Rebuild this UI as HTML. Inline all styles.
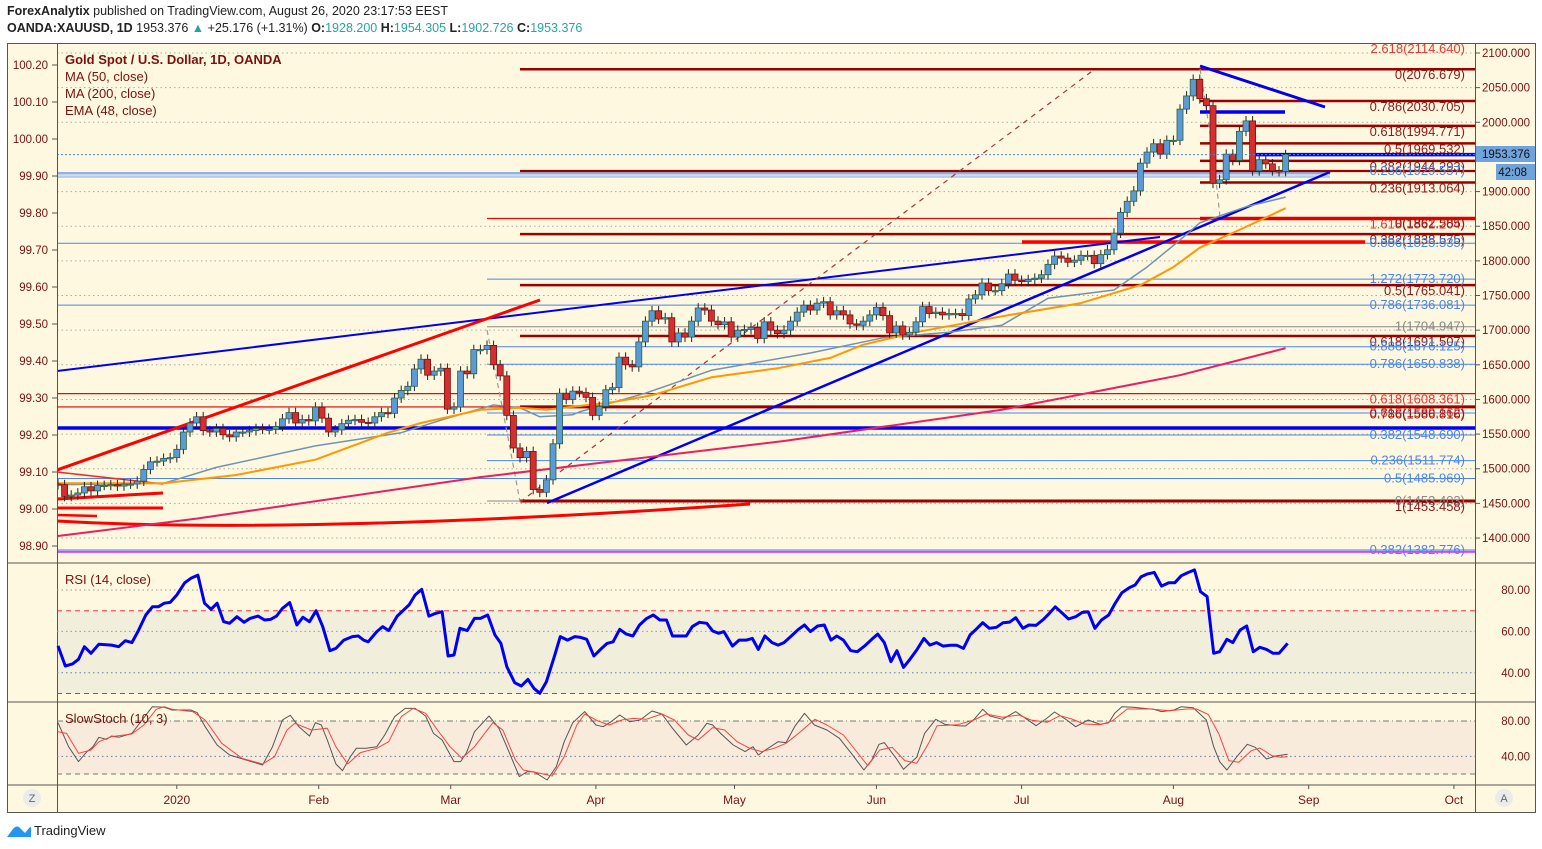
<!DOCTYPE html>
<html><head><meta charset="utf-8"><style>
body{margin:0;background:#fff;font-family:"Liberation Sans",sans-serif;}
#wrap{position:relative;width:1542px;height:849px;overflow:hidden;}
.h1{position:absolute;left:7px;top:4px;font-size:12.5px;color:#222;}
.h2{position:absolute;left:7px;top:21px;font-size:12.5px;color:#222;}
.t{color:#26a69a}
svg text{font-family:"Liberation Sans",sans-serif;}
</style></head><body>
<div id="wrap">
<div class="h1"><b>ForexAnalytix</b> published on TradingView.com, August 26, 2020 23:17:53 EEST</div>
<div class="h2"><b>OANDA:XAUUSD, 1D</b> 1953.376 <span class="t">▲</span> +25.176 (+1.31%) <b>O:</b><span class="t">1928.200</span> <b>H:</b><span class="t">1954.305</span> <b>L:</b><span class="t">1902.726</span> <b>C:</b><span class="t">1953.376</span></div>
<svg id="svg" width="1542" height="849" style="position:absolute;left:0;top:0"></svg>
</div>
<script>
// ---- DATA ----
const closes=[1477,1460,1462,1465,1474,1468,1476,1476,1477,1475,1478,1478,1482,1499,1510,1511,1515,1516,1528,1553,1566,1575,1555,1553,1558,1549,1546,1553,1553,1555,1558,1557,1557,1561,1572,1581,1566,1571,1569,1589,1573,1553,1556,1565,1570,1571,1567,1566,1575,1581,1580,1602,1613,1619,1644,1658,1635,1641,1645,1586,1589,1641,1637,1672,1672,1678,1650,
1634,1577,1530,1516,1525,1470,1466,1484,1536,1609,1600,1612,1610,1603,1577,1590,1614,1617,1661,1650,1647,1683,1713,1728,1716,1718,1683,1696,1690,1713,1732,1729,1713,1708,1712,1690,1700,1701,1704,1688,1712,1700,1695,1700,1713,1726,1736,1729,1739,1741,1722,1728,1722,1709,1707,1713,1722,1733,1721,1696,1706,1693,1697,1712,1734,1724,1726,1722,1724,1724,1721,1745,1751,1768,1757,1757,
1767,1781,1772,1770,1773,1775,1780,1795,1807,1804,1798,1801,1808,1808,1796,1809,1816,1840,1870,1886,1901,1941,1957,1969,1954,1974,1974,2019,2038,2062,2034,2024,1912,1917,1954,1945,1987,2002,1930,1946,1940,1930,1929,1953.376];
const firstOpen=1478;
const ma50Idx=[0,16,24,39,52,59,66,70,73,78,79,89,99,114,125,135,143,150,160,165,170,173,180,186];
const ma50Val=[1477,1479,1502,1533,1552,1573,1592,1588,1575,1578,1582,1609,1642,1667,1689,1697,1707,1746,1758,1791,1830,1855,1878,1892];
const ema48Idx=[0,16,27,39,50,55,64,70,74,84,90,99,109,117,122,130,143,155,164,169,173,180,186];
const ema48Val=[1479,1479,1491,1513,1552,1566,1585,1588,1585,1596,1606,1632,1645,1660,1679,1697,1720,1739,1765,1791,1819,1849,1876];
const ma200Idx=[0,21,64,110,143,170,186];
const ma200Val=[1403,1428,1488,1540,1585,1635,1674];
const rsiIdx=[0,1.1,2.2,3.1,4,5,6.2,8.1,9.2,10.2,11.2,12.1,13.3,14.3,15.2,16.1,17,18,19.2,20.1,21.2,22.2,23.2,24.1,25.1,26,27.1,28.2,29.1,30.3,31.3,32.2,33.1,34,35.1,36.2,37.1,38.1,39.1,40.1,41.2,42.1,43.3,44.6,45.5,46.3,47,48.3,49.2,50.1,51.4,53.2,54.1,55.1,56.2,57.2,58.2,59.1,60,60.9,62,63.1,64,65.1,66.2,67.1,68,69.2,70.2,71.2,72.1,73,74,75.2,76.1,77.2,78.3,79.2,80.1,81.2,82.2,83.2,84.1,85.1,86.1,87.1,88.1,89.2,90.2,91.2,92.2,93.1,
95.2,96.1,97.2,98.3,99.2,100.1,100.9,102.2,103.2,104.3,105.2,106.1,107.1,108.2,109.1,110,111.1,112.2,113.1,114,115.1,116.1,117.1,118,119,120.1,121.1,122.2,123.3,124.2,125.2,126.2,127.1,128.1,129.2,130.1,131.2,132.1,133.1,134.1,135.2,136.2,137.2,138.2,139.1,140.1,141.1,142.2,143.2,144.2,145.1,146.2,147.1,148.2,149.3,150.2,151.1,152.2,153.1,154.2,155.2,156.1,157.1,158.1,159.2,160.1,161.2,162.3,163.2,164.1,165,166.1,167.2,168.3,169.2,170.2,171.2,172.2,173.1,174.1,175.1,176,177.1,178,179.1,180.1,181.1,182.1,183.1,184.1,185,186.3];
const rsiVal=[53,43.3,44.3,46.5,52.6,49.4,53.8,53.4,52.6,55.5,54.6,59.9,67.9,71.9,71.9,73.6,74,77.6,83.5,85.6,87.2,73.6,70.7,73.6,64.7,63.9,67.1,64.4,66.3,67.4,65.5,65.8,67.4,71.1,73.9,63.1,66.8,64.7,70,62.3,50.7,51.8,55.8,57.5,57.8,55.8,55,59.9,62.3,60.4,67.4,72.8,77.6,80.3,67.4,68.7,69.5,48.1,48.6,61.5,60.4,66.3,66.3,67.9,58.3,54.2,43,35.2,33.6,36.8,32.5,30.1,35.7,47.8,57.5,55.8,57.5,57.1,56.2,48.1,51.3,54.2,55,61,58.7,57.8,63.1,66.3,67.9,65.5,65.5,57.8,
57.8,62.3,64.4,63.9,60.2,59.1,59.9,52.9,55.8,55.8,56.6,51.3,57.8,54.6,53.4,54.6,57.8,61,63.1,59.9,62.6,63.1,55.8,57.8,55.8,50.7,50.2,52.9,56.2,58.7,54.6,45.4,50.7,42.6,47,51,56.6,53.4,54.6,52.9,53.3,53.3,51.8,58.3,61,64.2,61.5,62,64.2,64.5,66.6,61.5,63.1,62.9,65.8,68.7,71.9,68.7,66,67.1,69.2,69.4,61.5,65.5,67.9,73.2,78.7,81.1,82.4,86.4,87.7,88.5,81.9,83.5,83.5,86.9,88.4,89.7,79.2,76.8,49.4,50.2,56.2,54.6,60.7,62.6,50.2,52.3,51.3,49.4,49.4,54.2];
const stochKIdx=[0,1.6,3.1,4.4,5.3,6.2,7.3,8.1,9.2,11.2,12.4,14.3,16.1,17.3,20.1,21.1,22.3,24.1,26,28.5,31,32.5,34,35.2,36.5,38.1,39,39.9,40.8,42.1,43.1,44.3,45.2,46.7,48.3,49.5,51,52.6,54.1,55.7,56.9,58.2,60,61,61.9,63.1,65.3,66.8,68,69.9,71.1,72.1,74.1,75.5,76.7,78,79.8,81.5,82.6,83.8,85.1,86.6,88.2,90,91.5,93.1,95.2,97,98.3,99.2,100.4,102.3,104.1,105.3,106.1,107.2,109.1,110.3,111.6,113.1,114.6,116.5,118.4,120.2,122.1,123.3,124.4,125.2,127,128.1,130.1,131.3,133,134.4,136.3,137.5,138.8,140.1,141.2,143.1,145.1,146.8,148.2,149.8,151,152.7,154.2,156.1,157.9,159.2,160.1,161.2,162.9,166,167.2,169.1,170.2,172,174,175.1,176,177.1,178.6,180.2,181.4,183.1,184.5,186.3];
const stochKVal=[78.1,50.9,34,45.3,50.9,61.5,59.2,63,61.5,66,77.7,96.2,95.5,92.5,92.5,89.4,73.6,52.8,41.5,35.8,30.2,50.9,81.1,86.4,73.6,63,78.1,75.5,58.5,31.3,23.8,39.6,49.1,49.1,50.9,64.2,84.9,94.3,94.3,85.7,66,58.5,34,34,44.2,67.9,85.7,71.7,50.9,17,22.6,22.6,13.2,28.3,56.6,78.1,90.6,75.5,73.6,79.2,86.8,79.2,81.1,91.3,87.9,71.7,52.8,64.2,77.4,75.5,66,52.8,45.3,50.9,41.5,47.2,56.6,55.5,73.6,88.7,75.5,69.8,60.4,43.4,24.5,35.8,53.6,55.5,37.7,25.3,38.9,66,81.9,76.2,74.7,74.3,81.9,93.2,85.7,81.9,90.6,81.9,74.7,83,90.2,81.9,73.6,81.1,76.2,78.1,88.7,96.2,95.5,93.2,90.6,92.5,96.2,95.1,81.1,50.9,34,24.5,39.6,53.6,50.2,37,40.4,42.3];
const stochDIdx=[0,1.3,3.1,5,6.2,8.1,11.2,13,14.9,16.1,17.3,20.4,22.3,24.8,27.9,31,32.8,34.7,35.9,38.4,40.8,42.1,43.9,45.8,48.3,50.1,52,53.8,55.7,57.5,59.4,61.2,63.1,65.9,67.4,69.3,70.5,73,74.9,76.7,78.6,79.8,81.7,83.5,85.4,87.2,89.1,91.5,93.4,95.5,97,99.2,101,102.9,104.8,106.6,108.5,110.3,112.2,114.7,116.5,119,120.8,122.7,124.5,126.4,128.3,130.1,132,133.2,136.3,138.8,140.6,143.1,145.6,147.4,149.9,151.8,153.6,155.5,158,159.8,162,165.4,168.5,171,172.5,174.3,175.9,177.4,178.9,180.8,182.1,183.9,185.2,186.3];
const stochDVal=[67.9,66,43.4,47.2,56.6,62.3,65.3,75.5,93.2,96.2,93.2,90.6,81.1,54.7,37.7,31.3,39.6,69.8,77.4,69.8,71.7,50.9,31.3,44.2,49.1,56.6,84.9,94.3,88.7,69.8,50.9,37.7,50.9,78.1,69.8,35.8,24.5,20.8,17.7,39.6,75.5,87.9,80.4,75.5,81.1,83,81.9,87.9,81.1,64.2,58.5,72.5,69.8,56.6,49.1,45.3,49.1,54.7,66,81.9,75.5,64.2,47.2,29.4,47.2,50.2,35.1,32.1,56,74.7,75.8,81.1,87.9,84.2,86.8,81.1,78.5,86,82.3,76.6,75.8,80.4,93.6,93.6,91.7,93.6,93.6,87.2,65.3,35.1,33.2,46.4,49.4,40.8,38.9,39.6];
const priceTicks=[2100,2050,2000,1900,1850,1800,1750,1700,1650,1600,1550,1500,1450,1400];
const leftTicks=["100.20","100.10","100.00","99.90","99.80","99.70","99.60","99.50","99.40","99.30","99.20","99.10","99.00","98.90"];
const monthLabels=["2020","Feb","Mar","Apr","May","Jun","Jul","Aug","Sep","Oct"];
const monthIdx=[18,39.5,59.5,81.5,102.5,124,146,169,189.5,211.5];
const fibText=["2.618(2114.640)","0(2076.679)","0.786(2030.705)","0.618(1994.771)","0.5(1969.532)","0.382(1944.293)","0.236(1929.557)","0.236(1913.064)","1.618(1861.204)","0(1862.585)","0.382(1838.575)","0.886(1825.535)","1.272(1773.720)","0.5(1765.041)","0.786(1736.081)","1(1704.947)","0.618(1691.507)","0.886(1676.125)","0.786(1650.838)","0.618(1608.361)","0.618(1589.162)","0.786(1586.816)","0.382(1548.690)","0.236(1511.774)","0.5(1485.969)","0(1453.403)","1(1453.458)","0.382(1382.776)"];
const fibPrice=[2114.64,2076.68,2030.7,1994.77,1969.53,1944.29,1929.56,1913.06,1861.2,1862.59,1838.58,1825.54,1773.72,1765.04,1736.08,1704.95,1691.51,1676.13,1650.84,1608.36,1589.16,1586.82,1548.69,1511.77,1485.97,1453.40,1453.46,1382.78];
const fibKind=["r","d","d","d","d","d","b","d","r","d","d","b","b","d","b","g","d","b","b","r","r","d","b","b","b","g","d","b"];

// ---- SCALES ----
const X=i=>58+i*6.6;
const PY=p=>53+(2100-p)*0.6929;
const RY=v=>590+(80-v)*2.07;
const SY=v=>721+(80-v)*0.883;
const svg=document.getElementById('svg');
const NS='http://www.w3.org/2000/svg';
function mk(tag,at,parent){const e=document.createElementNS(NS,tag);for(const k in at)e.setAttribute(k,at[k]);(parent||svg).appendChild(e);return e;}
function txt(s,at,parent){const e=mk('text',at,parent);e.textContent=s;return e;}

let e;
e=mk('rect',{x:7.5,y:43.5,width:1528,height:769,fill:'#fef8e0',stroke:'#555','stroke-width':1});


e=mk('rect',{x:57,y:RY(70),width:1418,height:RY(30)-RY(70),fill:'#f1eedc'});


e=mk('rect',{x:57,y:SY(80),width:1418,height:SY(20)-SY(80),fill:'#f8ebdc'});



const defs=mk('defs',{});
const cp=mk('clipPath',{id:'mainclip'},defs);
mk('rect',{x:57,y:44,width:1418,height:519},cp);
const main=mk('g',{'clip-path':'url(#mainclip)'});



priceTicks.forEach(p=>{e=mk('line',{x1:57,x2:1475,y1:PY(p),y2:PY(p),stroke:'#aaa','stroke-dasharray':'1.5 3','stroke-width':1},main);

});

const DK='#990000',BL='#4a86e8';
const hl=[[2076.6,520,1475,DK,2.5],[2030.7,1200,1475,DK,2.5],[1994.8,1200,1475,DK,2.5],[1969.5,1200,1475,DK,2.5],[1953.4,1255,1475,'#0000ff',3.5],[1944.3,1200,1475,DK,2.5],
[1926.5,57,1330,'#8fb2e6',2.5],[1921.5,57,1330,'#b4cbee',2.5],[1929.7,520,1475,DK,2.2],[1913.1,1200,1475,DK,2.5],[1861.2,487,1200,'#ff0000',1.2],[1861.2,1200,1475,'#e00000',3.5],
[1838.6,520,1475,DK,2.5],[1825.5,57,1475,BL,1],[1827.2,1022,1365,'#ff0000',3.5],[1773.7,487,1475,BL,1],[1765.0,520,1475,DK,2.5],[1736.1,57,1475,BL,1],[1704.9,487,1475,'#888',1],
[1691.5,520,1475,DK,2.5],[1676.1,487,1475,BL,1],[1650.8,487,1475,BL,1],[1608.4,57,1475,'#ff0000',1.2],[1589.2,57,520,'#e00000',1.2],[1589.2,520,1475,DK,3],[1580.4,487,1475,BL,1],
[1558.8,57,1475,'#0000ee',3.5],[1548.7,487,1475,BL,1],[1511.8,487,1475,BL,1],[1486,57,1475,BL,1],[1453.4,487,1475,'#888',1],[1453.4,520,1475,DK,3],[1382.8,57,1475,BL,1],[1380,57,1475,'#e040fb',2]];
hl.forEach(h=>{e=mk('line',{x1:h[1],x2:h[2],y1:PY(h[0]),y2:PY(h[0]),stroke:h[3],'stroke-width':h[4]},main);

});

const kc={r:'#e53935',d:'#8b1a1a',b:'#4a86e8',g:'#888'};
fibText.forEach((s,i)=>{const k=fibKind[i];e=txt(s,{x:1465,y:PY(fibPrice[i])+(k==='b'?4:(k==='g'?4:10)),'text-anchor':'end','font-size':13,fill:kc[k]},main);

});

const tl=[[57,371,1160,237,'#0000ee',2],[547,503,1330,172,'#0000ee',2.5],[1200,66,1325,107,'#0000ee',3],[1200,112,1285,112,'#0000ee',3.5],
[57,470,540,300,'#ff0000',3],[57,499,163,493,'#ff0000',3],[57,508,163,508,'#ff0000',3],[57,515,97,516,'#ff0000',2.5],[57,472,163,484,'#ff2020',1.5]];
tl.forEach(t=>{e=mk('line',{x1:t[0],y1:t[1],x2:t[2],y2:t[3],stroke:t[4],'stroke-width':t[5]},main);

});
e=mk('path',{d:'M57,521 Q300,535 750,504',fill:'none',stroke:'#ff0000','stroke-width':3},main);


e=mk('line',{x1:520,y1:502,x2:1095,y2:69,stroke:'#a33','stroke-width':1.2,'stroke-dasharray':'5 5'},main);


e=mk('path',{d:'M487,330 Q505,420 520,502 M1200,69 Q1212,140 1220,217',fill:'none',stroke:'#999','stroke-width':1.2,'stroke-dasharray':'5 4'},main);



function poly(idx,val,fy,stroke,w,parent){const pts=idx.map((ix,k)=>X(ix).toFixed(1)+','+fy(val[k]).toFixed(1)).join(' ');
return mk('polyline',{points:pts,fill:'none',stroke:stroke,'stroke-width':w,'stroke-linejoin':'round'},parent);}
e=poly(ma200Idx,ma200Val,PY,'#e91e63',2,main);


e=poly(ma50Idx,ma50Val,PY,'#6f93b0',1.5,main);


e=poly(ema48Idx,ema48Val,PY,'#ff9800',2,main);



closes.forEach((c,i)=>{const o=i===0?firstOpen:closes[i-1];const up=c>=o;const x=X(i);
const hi=Math.max(o,c)+7,lo=Math.min(o,c)-7;
const w=mk('line',{x1:x,x2:x,y1:PY(hi),y2:PY(lo),stroke:'#222','stroke-width':1},main);


const top=PY(Math.max(o,c)),bot=PY(Math.min(o,c));
const b=mk('rect',{x:x-3,y:top,width:6,height:Math.max(1.2,bot-top),fill:up?'#5b9bd5':'#d32f2f',stroke:up?'#2e5e3e':'#7a1010','stroke-width':0.8},main);

});

e=mk('line',{x1:57,x2:1475,y1:PY(1953.376),y2:PY(1953.376),stroke:'#4a86e8','stroke-dasharray':'2 2','stroke-width':1});



[['Gold Spot / U.S. Dollar, 1D, OANDA',65,'bold'],['MA (50, close)',82,'normal'],['MA (200, close)',99,'normal'],['EMA (48, close)',116,'normal']].forEach(l=>{
e=txt(l[0],{x:65,y:l[1]-1,'font-size':13,'font-weight':l[2],fill:'#7a1010'});

});

[563,702,785].forEach(s=>{e=mk('line',{x1:7,x2:1535,y1:s,y2:s,stroke:'#555','stroke-width':1});

});
[57,1475].forEach(xx=>{e=mk('line',{x1:xx+0.5,x2:xx+0.5,y1:43,y2:812,stroke:'#555','stroke-width':1});

});

priceTicks.forEach(p=>{e=txt(p.toFixed(3),{x:1530,y:PY(p)+4,'text-anchor':'end','font-size':11.5,fill:'#7a1010'});


mk('line',{x1:1475,x2:1480,y1:PY(p),y2:PY(p),stroke:'#555'});});
leftTicks.forEach((s,k)=>{const y=65+k*37;e=txt(s,{x:48,y:y+4,'text-anchor':'end','font-size':11.5,fill:'#7a1010'});


mk('line',{x1:52,x2:57,y1:y,y2:y,stroke:'#555'});});
e=mk('rect',{x:1476,y:146,width:59,height:16,fill:'#6fa3dc'});


txt('1953.376',{x:1530,y:158,'text-anchor':'end','font-size':11.5,fill:'#111'});
e=mk('rect',{x:1496,y:164,width:39,height:16,fill:'#6fa3dc'});


txt('42:08',{x:1527,y:176,'text-anchor':'end','font-size':11.5,fill:'#111'});

[[80,'#999','1.5 3'],[60,'#999','1.5 3'],[40,'#6a7fa0','1.5 3'],[70,'#ff3333','5 4'],[30,'#1a8a7a','5 4']].forEach(g=>{
e=mk('line',{x1:57,x2:1475,y1:RY(g[0]),y2:RY(g[0]),stroke:g[1],'stroke-dasharray':g[2],'stroke-width':1});

});
[80,60,40].forEach(v=>{e=txt(v.toFixed(2),{x:1530,y:RY(v)+4,'text-anchor':'end','font-size':11.5,fill:'#7a1010'});

});
e=poly(rsiIdx,rsiVal,RY,'#0000ee',3,svg);


e=txt('RSI (14, close)',{x:65,y:584,'font-size':13,fill:'#7a1010'});



[[80,'#777','6 3 1 3'],[40,'#6a7fa0','1.5 3'],[20,'#777','5 4']].forEach(g=>{
e=mk('line',{x1:57,x2:1475,y1:SY(g[0]),y2:SY(g[0]),stroke:g[1],'stroke-dasharray':g[2],'stroke-width':1});

});
[80,40].forEach(v=>{e=txt(v.toFixed(2),{x:1530,y:SY(v)+4,'text-anchor':'end','font-size':11.5,fill:'#7a1010'});

});
e=poly(stochKIdx,stochKVal,SY,'#555',1,svg);


e=poly(stochDIdx,stochDVal,SY,'#ff4040',1,svg);


e=txt('SlowStoch (10, 3)',{x:65,y:723,'font-size':13,fill:'#7a1010'});



monthLabels.forEach((s,k)=>{const x=X(monthIdx[k]);
mk('line',{x1:x,x2:x,y1:785,y2:789,stroke:'#555'});
e=txt(s,{x:x,y:804,'text-anchor':'middle','font-size':12,fill:'#7a1010'});

});
e=mk('circle',{cx:32,cy:798,r:9,fill:'#ebebeb'});


txt('Z',{x:32,y:802,'text-anchor':'middle','font-size':11,fill:'#666'});
e=mk('circle',{cx:1504,cy:798,r:9,fill:'#ebebeb'});


txt('A',{x:1504,y:802,'text-anchor':'middle','font-size':11,fill:'#666'});

e=mk('path',{d:'M7,837 L13,829 Q17,824 21,829 L25,833 L29,828 Q32,825 31,832 L31,837 Z',fill:'#2196f3'});


e=txt('TradingView',{x:34,y:835,'font-size':13,fill:'#222'});


</script>
</body></html>
